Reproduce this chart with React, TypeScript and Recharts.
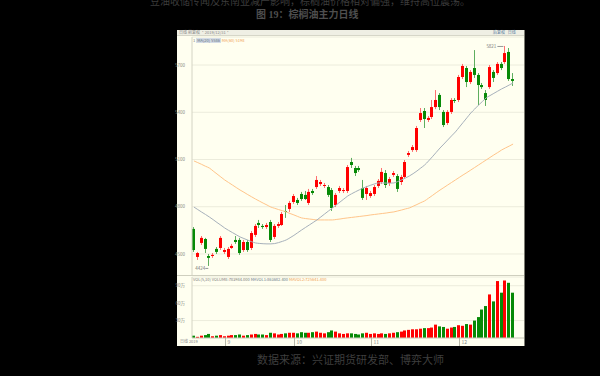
import React from "react";
import { ComposedChart, Bar, Line, XAxis, YAxis, CartesianGrid, ReferenceDot } from "recharts";

// daily OHLC
const opens = [
  4659, 4481, 4570, 4595, 4487, 4487, 4532, 4538, 4513, 4481, 4538, 4589, 4589, 4525, 4576, 4538, 4621, 4697, 4678, 4671,
  4703, 4608, 4678, 4684, 4773, 4786, 4830, 4843, 4881, 4875, 4824, 4900, 4925, 4944, 4932, 4925, 4906, 4811, 4900, 4900,
  4900, 5084, 5046, 5046, 4919, 4881, 4868, 4881, 4932, 4957, 5014, 4951, 5002, 4995, 4957, 4989, 5129, 5160, 5160, 5351,
  5408, 5351, 5370, 5433, 5510, 5402, 5332, 5402, 5478, 5478, 5624, 5681, 5592, 5681, 5637, 5573, 5522, 5560, 5656, 5649,
  5707, 5719, 5783, 5611,
];
const highs = [
  4671, 4513, 4614, 4602, 4500, 4506, 4544, 4614, 4538, 4544, 4564, 4614, 4602, 4589, 4589, 4646, 4690, 4716, 4690, 4697,
  4716, 4690, 4703, 4767, 4811, 4837, 4881, 4856, 4894, 4900, 4913, 4913, 4995, 4970, 4951, 4938, 4919, 4887, 4932, 4919,
  5065, 5110, 5059, 5059, 4970, 4932, 4900, 4938, 4976, 5046, 5033, 4989, 5027, 5008, 5002, 5097, 5154, 5192, 5313, 5427,
  5427, 5376, 5478, 5541, 5522, 5414, 5414, 5490, 5490, 5637, 5707, 5694, 5668, 5795, 5649, 5586, 5541, 5700, 5668, 5719,
  5719, 5821, 5808, 5649,
];
const lows = [
  4513, 4462, 4557, 4506, 4424, 4475, 4500, 4525, 4500, 4468, 4532, 4564, 4494, 4513, 4513, 4525, 4608, 4665, 4659, 4659,
  4576, 4595, 4665, 4678, 4729, 4767, 4818, 4811, 4837, 4843, 4811, 4875, 4913, 4932, 4919, 4862, 4773, 4798, 4887, 4887,
  4887, 5046, 4995, 5021, 4843, 4843, 4856, 4868, 4919, 4944, 4919, 4932, 4989, 4894, 4938, 4976, 5116, 5148, 5148, 5338,
  5300, 5338, 5357, 5420, 5414, 5306, 5319, 5389, 5459, 5465, 5611, 5560, 5579, 5618, 5446, 5548, 5440, 5548, 5592, 5637,
  5668, 5707, 5599, 5567,
];
const closes = [
  4525, 4506, 4602, 4532, 4475, 4494, 4513, 4602, 4525, 4532, 4551, 4576, 4506, 4576, 4525, 4633, 4678, 4684, 4671, 4684,
  4589, 4678, 4690, 4754, 4767, 4824, 4868, 4824, 4849, 4849, 4894, 4887, 4970, 4957, 4938, 4875, 4792, 4875, 4919, 4906,
  5052, 5065, 5014, 5033, 4856, 4919, 4887, 4925, 4964, 5021, 4938, 4976, 5014, 4913, 4989, 5084, 5141, 5179, 5300, 5395,
  5357, 5364, 5433, 5478, 5433, 5319, 5402, 5478, 5472, 5624, 5694, 5592, 5656, 5637, 5573, 5560, 5478, 5687, 5618, 5707,
  5681, 5776, 5611, 5599,
];
// volume, 万手
const volumes = [
  4, 2, 4, 5, 7, 3, 4, 5, 3, 4, 5, 5, 6, 4, 5, 6, 7, 6, 6, 5,
  9, 8, 6, 7, 8, 9, 9, 8, 10, 9, 9, 10, 11, 9, 8, 10, 13, 11, 8, 7,
  8, 8, 7, 6, 8, 9, 7, 8, 7, 8, 7, 8, 9, 10, 11, 13, 14, 15, 15, 16,
  17, 17, 18, 23, 20, 19, 16, 18, 19, 22, 21, 24, 23, 30, 36, 49, 55, 75, 63, 98,
  78, 99, 95, 78,
];
const ma20 = [
  4798, 4782, 4766, 4751, 4735, 4718, 4700, 4683, 4665, 4650, 4636, 4622, 4608, 4598, 4588, 4578, 4570, 4567, 4565, 4564,
  4564, 4566, 4572, 4580, 4589, 4603, 4618, 4635, 4652, 4668, 4684, 4700, 4716, 4735, 4754, 4773, 4792, 4811, 4830, 4849,
  4868, 4882, 4895, 4907, 4919, 4928, 4937, 4945, 4951, 4951, 4950, 4950, 4951, 4960, 4970, 4982, 4995, 5010, 5027, 5046,
  5065, 5090, 5117, 5145, 5173, 5198, 5224, 5250, 5275, 5305, 5335, 5365, 5395, 5420, 5445, 5468, 5491, 5506, 5520, 5534,
  5548, 5560, 5573, 5586,
];
const ma60 = [
  5091, 5080, 5069, 5057, 5046, 5027, 5008, 4989, 4970, 4954, 4938, 4922, 4906, 4892, 4877, 4863, 4849, 4836, 4823, 4811,
  4798, 4790, 4782, 4775, 4767, 4757, 4748, 4738, 4729, 4725, 4722, 4719, 4716, 4716, 4716, 4716, 4716, 4719, 4722, 4726,
  4729, 4732, 4735, 4738, 4741, 4744, 4748, 4751, 4754, 4757, 4760, 4764, 4767, 4773, 4779, 4786, 4792, 4803, 4814, 4826,
  4837, 4854, 4871, 4889, 4906, 4922, 4938, 4954, 4970, 4986, 5002, 5017, 5033, 5049, 5065, 5081, 5097, 5113, 5129, 5144,
  5160, 5173, 5185, 5198,
];

const priceTicks = [4500, 4800, 5100, 5400, 5700];
const volTicks = [30, 60, 90];
const monthTicks = [8, 26, 46, 69];
const monthLabels = ["9", "10", "11", "12"];

const RED = "#ff0000";
const GREEN = "#068a06";
const RED_WICK = "#ff7070";
const GREEN_WICK = "#5fae5f";

const rows = opens.map((o, i) => ({
  i,
  open: o,
  high: highs[i],
  low: lows[i],
  close: closes[i],
  vol: volumes[i],
  ma20: ma20[i],
  ma60: ma60[i],
}));

const maxHigh = Math.max(...highs);
const maxIdx = highs.indexOf(maxHigh);
const minLow = Math.min(...lows);
const minIdx = lows.indexOf(minLow);

function Candle(props: any) {
  const { x, y, width, height, payload } = props;
  if (x == null || !payload) return null;
  const top = Math.min(y, y + height);
  const h = Math.abs(height);
  const span = payload.high - payload.low || 1;
  const k = h / span;
  const yO = top + (payload.high - payload.open) * k;
  const yC = top + (payload.high - payload.close) * k;
  const up = payload.close >= payload.open;
  const bx = Math.round(x + width / 2 - 1.5);
  const cx = bx + 1.5;
  const by = Math.min(yO, yC);
  return (
    <g>
      <line x1={cx} x2={cx} y1={top} y2={top + h} stroke={up ? RED_WICK : GREEN_WICK} strokeWidth={1} />
      <rect x={bx} y={by} width={3} height={Math.max(1, Math.abs(yC - yO))} fill={up ? RED : GREEN} />
    </g>
  );
}

function VolBar(props: any) {
  const { x, y, width, height, payload } = props;
  if (x == null || !payload) return null;
  const up = payload.close >= payload.open;
  const bx = Math.round(x + width / 2 - 1.5);
  return <rect x={bx} y={y} width={3} height={Math.max(0, height)} fill={up ? RED : GREEN} />;
}

function MonthTick(props: any) {
  const { x, y, payload } = props;
  const k = monthTicks.indexOf(payload.value);
  if (k < 0) return null;
  const lx = Math.round(x) + 0.5;
  return (
    <g>
      <line x1={lx} x2={lx} y1={y - 2} y2={y + 6} stroke="#b8b8a8" />
      <text x={lx + 2} y={y + 4} fontSize={5} fill="#888">
        {monthLabels[k]}
      </text>
    </g>
  );
}

export default function App() {
  const cjk = "'Noto Sans CJK SC', 'Noto Sans', sans-serif";
  return (
    <div
      style={{
        position: "fixed",
        left: 0,
        top: 0,
        width: 600,
        height: 376,
        background: "#000",
        overflow: "hidden",
        fontFamily: cjk,
      }}
    >
      <div style={{ position: "absolute", left: 150, top: -4, width: 310, fontSize: 10, lineHeight: "10px", color: "#3c3c3c", whiteSpace: "nowrap" }}>
        豆油收储传闻及东南亚减产影响，棕榈油价格相对偏强，维持高位震荡。
      </div>
      <div
        style={{
          position: "absolute",
          left: 256,
          top: 9,
          fontSize: 10,
          lineHeight: "12px",
          color: "#4e4e4e",
          fontWeight: 700,
          fontFamily: "'Liberation Serif', 'Noto Sans CJK SC', serif",
          whiteSpace: "nowrap",
        }}
      >
        图 19：棕榈油主力日线
      </div>

      <div
        style={{
          position: "absolute",
          left: 177,
          top: 30,
          width: 347,
          height: 316,
          background: "#fffff0",
          borderRight: "1px solid #7a7a70",
        }}
      >
        <div style={{ position: "absolute", left: 0, top: 0, width: 347, height: 5, background: "#efefe4", borderBottom: "1px solid #d6d6c8" }} />
        <div style={{ position: "absolute", left: 2, top: 0, fontSize: 4, lineHeight: "5px", color: "#888", whiteSpace: "nowrap" }}>
          日线 前复权 ·2019/12/31·
        </div>
        <div style={{ position: "absolute", left: 316, top: 0, fontSize: 4, lineHeight: "5px", color: "#5a7da0", whiteSpace: "nowrap" }}>
          后复权 &nbsp; 日线
        </div>
        <div style={{ position: "absolute", left: 16, top: 8, fontSize: 4, lineHeight: "5px", whiteSpace: "nowrap", display: "flex", gap: 1 }}>
          <span style={{ color: "#777" }}>1</span>
          <span style={{ color: "#5d6a78", background: "#d4dce6", padding: "0 1px" }}>MA(20) {ma20[ma20.length - 1]}</span>
          <span style={{ color: "#f0a050" }}>MA(60) {ma60[ma60.length - 1]}</span>
        </div>

        <div style={{ position: "absolute", left: -6, top: 6 }}>
          <ComposedChart width={353} height={240} data={rows} margin={{ top: 1, right: 0, bottom: 0, left: 0 }}>
            <CartesianGrid vertical={false} stroke="#ececdc" />
            <XAxis dataKey="i" hide padding={{ left: 0, right: 9 }} />
            <YAxis
              width={21}
              domain={[4360, 5878]}
              ticks={priceTicks}
              allowDataOverflow
              axisLine={{ stroke: "#d4d4c4" }}
              tickLine={false}
              tickMargin={1}
              tick={{ fontSize: 4.5, fill: "#8a8a80" }}
            />
            <Line type="monotone" dataKey="ma60" stroke="#ffc58a" strokeWidth={1} dot={false} isAnimationActive={false} />
            <Line type="monotone" dataKey="ma20" stroke="#a7b1bb" strokeWidth={1} dot={false} isAnimationActive={false} />
            <Bar dataKey={(d: any) => [d.low, d.high]} barSize={3} shape={<Candle />} isAnimationActive={false} />
            <ReferenceDot
              x={maxIdx}
              y={maxHigh}
              r={0}
              shape={(p: any) => (
                <g>
                  <text x={p.cx - 9} y={p.cy + 2} fontSize={4.5} fill="#777" textAnchor="end">
                    {maxHigh}
                  </text>
                  <line x1={p.cx - 8} x2={p.cx - 2} y1={p.cy + 0.5} y2={p.cy + 0.5} stroke="#999" />
                </g>
              )}
            />
            <ReferenceDot
              x={minIdx}
              y={minLow}
              r={0}
              shape={(p: any) => (
                <g>
                  <text x={p.cx - 4} y={p.cy + 4} fontSize={4.5} fill="#777" textAnchor="end">
                    {minLow}
                  </text>
                  <line x1={p.cx - 4} x2={p.cx - 1} y1={p.cy + 2.5} y2={p.cy + 2.5} stroke="#999" />
                </g>
              )}
            />
          </ComposedChart>
        </div>

        <div style={{ position: "absolute", left: 0, top: 245, width: 347, borderTop: "1px solid #cfcfbf" }} />
        <div style={{ position: "absolute", left: 16, top: 247, fontSize: 4, lineHeight: "5px", whiteSpace: "nowrap" }}>
          <span style={{ color: "#777" }}>VOL(5,10) VOLUME:783984.000 </span>
          <span style={{ color: "#6a7888" }}>MAVOL1:863682.400 </span>
          <span style={{ color: "#f0a050" }}>MAVOL2:725641.400</span>
        </div>

        <div style={{ position: "absolute", left: -6, top: 246 }}>
          <ComposedChart width={353} height={70} data={rows} margin={{ top: 1, right: 0, bottom: 0, left: 0 }}>
            <CartesianGrid vertical={false} stroke="#ececdc" />
            <XAxis
              dataKey="i"
              height={8}
              interval={0}
              padding={{ left: 0, right: 9 }}
              axisLine={{ stroke: "#cfcfbf" }}
              tickLine={false}
              tickSize={0}
              tickMargin={2}
              tick={<MonthTick />}
            />
            <YAxis
              width={21}
              domain={[0, 105]}
              ticks={volTicks}
              allowDataOverflow
              axisLine={{ stroke: "#d4d4c4" }}
              tickLine={false}
              tickMargin={1}
              tick={{ fontSize: 4.5, fill: "#8a8a80" }}
              tickFormatter={(v: number) => `${v}万`}
            />
            <Bar dataKey="vol" barSize={3} shape={<VolBar />} isAnimationActive={false} />
          </ComposedChart>
        </div>
        <div style={{ position: "absolute", left: 3, top: 309, fontSize: 4, lineHeight: "5px", color: "#888", whiteSpace: "nowrap" }}>
          日线 2019
        </div>
      </div>

      <div style={{ position: "absolute", left: 257, top: 352, fontSize: 11, lineHeight: "14px", color: "#3e3e3e", whiteSpace: "nowrap" }}>
        数据来源：兴证期货研发部、博弈大师
      </div>
    </div>
  );
}
